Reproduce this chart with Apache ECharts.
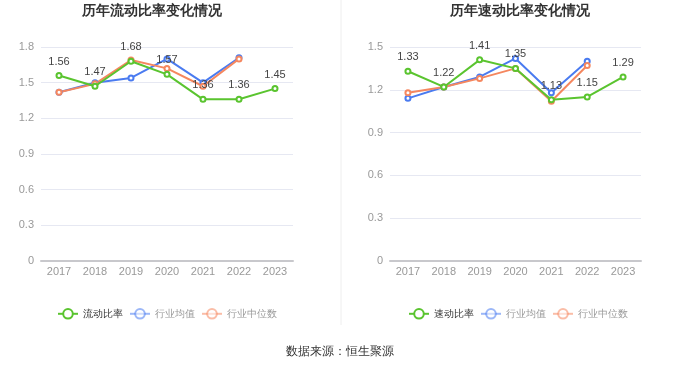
<!DOCTYPE html>
<html><head><meta charset="utf-8">
<script src="https://cdn.jsdelivr.net/npm/echarts@6/dist/echarts.min.js"></script>
<style>html,body{margin:0;padding:0;background:#fff}#c{width:680px;height:367px}</style>
</head><body><div id="c"></div>
<script>
const years = ['2017','2018','2019','2020','2021','2022','2023'];
const currentRatio = [1.56,1.47,1.68,1.57,1.36,1.36,1.45];
const currentAvg = [1.42,1.50,1.54,1.70,1.50,1.71,null];
const currentMed = [1.42,1.49,1.69,1.62,1.47,1.70,null];
const quickRatio = [1.33,1.22,1.41,1.35,1.13,1.15,1.29];
const quickAvg = [1.14,1.22,1.29,1.42,1.18,1.40,null];
const quickMed = [1.18,1.22,1.28,1.35,1.12,1.37,null];
const yTicksLeft = {min:0,max:1.8,interval:0.3};
const yTicksRight = {min:0,max:1.5,interval:0.3};

const GREEN='#5ac42f', BLUE='#4a7bf0', ORANGE='#f5875f';
const chart = echarts.init(document.getElementById('c'));
function xAxis(i){return {type:'category',gridIndex:i,data:years,boundaryGap:true,
  axisLine:{lineStyle:{color:'#c8c8cc',width:2}},axisTick:{alignWithLabel:true,lineStyle:{color:'#c8c8cc'}},
  axisLabel:{color:'#999',fontSize:11,margin:5}};}
function yAxis(i,t){return {type:'value',gridIndex:i,min:t.min,max:t.max,interval:t.interval,
  axisLine:{show:false},axisTick:{show:false},
  axisLabel:{color:'#999',fontSize:11,margin:7,formatter:v=>String(Math.round(v*10)/10)},
  splitLine:{lineStyle:{color:'#e6e8f2'}}};}
function ser(name,data,color,i,main){return {type:'line',name,data,xAxisIndex:i,yAxisIndex:i,
  symbol:'emptyCircle',symbolSize:5,lineStyle:{width:2,color},itemStyle:{color},
  label:main?{show:true,position:'top',color:'#444',fontSize:11,formatter:p=>p.value.toFixed(2)}:{show:false},
  z:main?3:2};}
function legend(names,left){return {left,top:303,itemWidth:20,itemHeight:12,itemGap:6,
  textStyle:{fontSize:10,color:'#333'},
  data:[{name:names[0]},
   {name:names[1],textStyle:{color:'#999'},itemStyle:{opacity:0.55},lineStyle:{opacity:0.55}},
   {name:names[2],textStyle:{color:'#999'},itemStyle:{opacity:0.55},lineStyle:{opacity:0.55}}]};}
chart.setOption({
  animation:false,
  title:[{text:'历年流动比率变化情况',left:147,textAlign:'center',top:-1,textStyle:{fontSize:14,fontWeight:'bold',color:'#333'}},
         {text:'历年速动比率变化情况',left:515,textAlign:'center',top:-1,textStyle:{fontSize:14,fontWeight:'bold',color:'#333'}}],
  grid:[{left:41,right:387,top:47,bottom:106},{left:390,right:39,top:47,bottom:106}],
  xAxis:[xAxis(0),xAxis(1)],
  yAxis:[yAxis(0,yTicksLeft),yAxis(1,yTicksRight)],
  legend:[legend(['流动比率','行业均值','行业中位数'],52),legend(['速动比率','行业均值','行业中位数'],403)],
  series:[ser('流动比率',currentRatio,GREEN,0,true),ser('行业均值',currentAvg,BLUE,0,false),ser('行业中位数',currentMed,ORANGE,0,false),
          ser('速动比率',quickRatio,GREEN,1,true),ser('行业均值',quickAvg,BLUE,1,false),ser('行业中位数',quickMed,ORANGE,1,false)],
  graphic:[{type:'line',shape:{x1:341,y1:0,x2:341,y2:325},style:{stroke:'#eee',lineWidth:1}},
           {type:'text',left:'center',top:346,style:{text:'数据来源：恒生聚源',fill:'#333',fontSize:12}}]
});
</script></body></html>
